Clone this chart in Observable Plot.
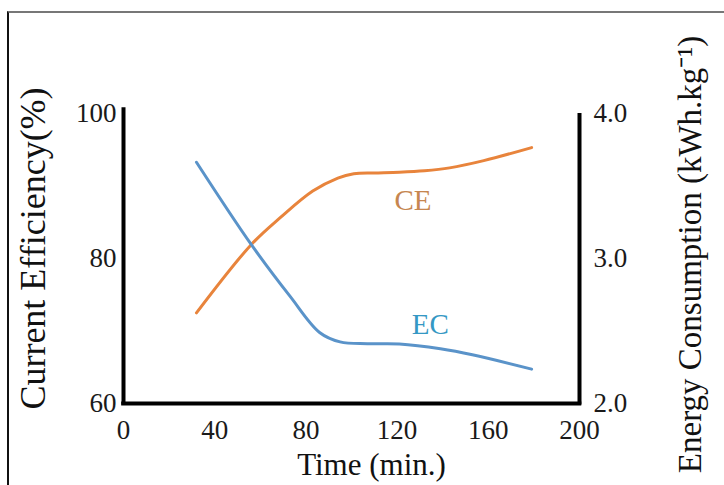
<!DOCTYPE html>
<html>
<head>
<meta charset="utf-8">
<script src="https://cdn.jsdelivr.net/npm/d3@7"></script>
<script src="https://cdn.jsdelivr.net/npm/@observablehq/plot@0.6"></script>
<style>
  html, body { margin: 0; padding: 0; background: #fff; }
  #wrap { position: relative; width: 724px; height: 485px; overflow: hidden; }
  #deco { position: absolute; left: 7px; top: 11px; right: 0; bottom: -5px;
          border-top: 2px solid #777; border-left: 2px solid #111; }
  #chart { position: absolute; left: 0; top: 0; }
</style>
</head>
<body>
<div id="wrap"><div id="deco"></div><div id="chart"></div></div>
<script>
// Current efficiency (CE, %) — left axis
const timeCE = [32, 56, 69, 83, 94, 101, 110, 121, 132, 143, 158, 179];
const ce     = [72.5, 81.9, 85.7, 89.3, 91.1, 91.7, 91.8, 91.9, 92.1, 92.5, 93.5, 95.3];

// Energy consumption (EC, kWh/kg) — right axis
const timeEC = [32, 56, 73, 86, 95, 107, 121, 139, 153, 179];
const ec     = [3.664, 3.097, 2.74, 2.49, 2.425, 2.412, 2.41, 2.377, 2.336, 2.237];

const xTicks = [0, 40, 80, 120, 160, 200];
const leftTicks = [60, 80, 100];
const rightTicks = [2.0, 3.0, 4.0];

const leftDomain = [60, 100];
const rightDomain = [2, 4];
// map right-axis values into left-axis units
const toLeft = v => leftDomain[0] + (v - rightDomain[0]) * (leftDomain[1] - leftDomain[0]) / (rightDomain[1] - rightDomain[0]);
const fromLeft = v => rightDomain[0] + (v - leftDomain[0]) * (rightDomain[1] - rightDomain[0]) / (leftDomain[1] - leftDomain[0]);

const ceData = timeCE.map((t, i) => ({t, v: ce[i]}));
const ecData = timeEC.map((t, i) => ({t, v: toLeft(ec[i])}));

const labels = [
  {t: 127, v: 88, text: "CE", color: "#c68650"},
  {t: 134.6, v: toLeft(2.54), text: "EC", color: "#3598c4"}
];

const serif = "'Liberation Serif', 'Times New Roman', serif";

const chart = Plot.plot({
  width: 724,
  height: 485,
  marginLeft: 123,
  marginRight: 145,
  marginTop: 113,
  marginBottom: 82,
  style: {fontFamily: serif, fontSize: "27px", color: "#1a1a1a", background: "transparent"},
  x: {domain: [0, 200]},
  y: {domain: leftDomain},
  marks: [
    Plot.line(ceData, {x: "t", y: "v", stroke: "#e8843c", strokeWidth: 3, curve: "catmull-rom"}),
    Plot.line(ecData, {x: "t", y: "v", stroke: "#5a93c9", strokeWidth: 3, curve: "catmull-rom"}),
    Plot.text(labels, {x: "t", y: "v", text: "text", fill: "color", fontSize: 29}),
    Plot.ruleX([0], {y1: 59.8, y2: 100.8, stroke: "#000", strokeWidth: 4}),
    Plot.ruleX([200], {y1: 59.8, y2: 100, stroke: "#000", strokeWidth: 4}),
    Plot.ruleY([60], {x1: -0.8, x2: 201, stroke: "#000", strokeWidth: 4}),
    Plot.axisX({ticks: xTicks, tickSize: 0, tickPadding: 16, label: null, fill: "#1a1a1a"}),
    Plot.axisY({ticks: leftTicks, tickSize: 0, tickPadding: 7, label: null, fill: "#1a1a1a"}),
    Plot.axisY({anchor: "right", ticks: rightTicks.map(toLeft), tickFormat: d => fromLeft(d).toFixed(1),
                tickSize: 0, tickPadding: 14, label: null, fill: "#1a1a1a"}),
    Plot.text(["Time (min.)"], {frameAnchor: "bottom", dx: 20, dy: 62, lineAnchor: "middle",
                textAnchor: "middle", fontSize: 31, fill: "#111"}),
    Plot.text(["Current Efficiency(%)"], {frameAnchor: "left", dx: -90, dy: -10, rotate: -90,
                lineAnchor: "middle", textAnchor: "middle", fontSize: 36, fill: "#111"}),
    Plot.text(["Energy Consumption (kWh.kg\u207B\u00B9)"], {frameAnchor: "right", dx: 111, dy: -4, rotate: -90,
                lineAnchor: "middle", textAnchor: "middle", fontSize: 33, fill: "#111"})
  ]
});
document.getElementById("chart").appendChild(chart);
</script>
</body>
</html>
